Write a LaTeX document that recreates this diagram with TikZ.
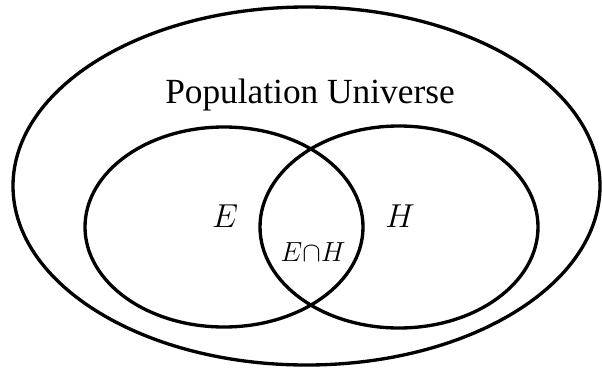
\documentclass[tikz,border=0pt]{standalone}
\usepackage{fontspec}
\setmainfont{Liberation Serif}
\begin{document}
\begin{tikzpicture}[x=0.75pt,y=-0.75pt,
  setline/.style={draw=black,line width=2.5pt},
  lbl/.style={inner sep=0pt,anchor=base}]
\useasboundingbox (0,0) rectangle (602,368);
\draw[setline] (306.5,186) ellipse [x radius=293.5, y radius=179];
\draw[setline] (224,227) ellipse [x radius=139, y radius=100];
\draw[setline] (399,227) ellipse [x radius=139, y radius=101];
\node[lbl] (pu) at (310,103) {\fontsize{26.5}{30}\selectfont Population Universe};
\node[lbl] (e) at (225,227) {\fontsize{25}{30}\selectfont $E$};
\node[lbl] (h) at (400,227) {\fontsize{25}{30}\selectfont $H$};
\node[lbl] (eh) at (313,261) {\fontsize{22}{26}\selectfont $E{\cap}H$};
\end{tikzpicture}
\end{document}
